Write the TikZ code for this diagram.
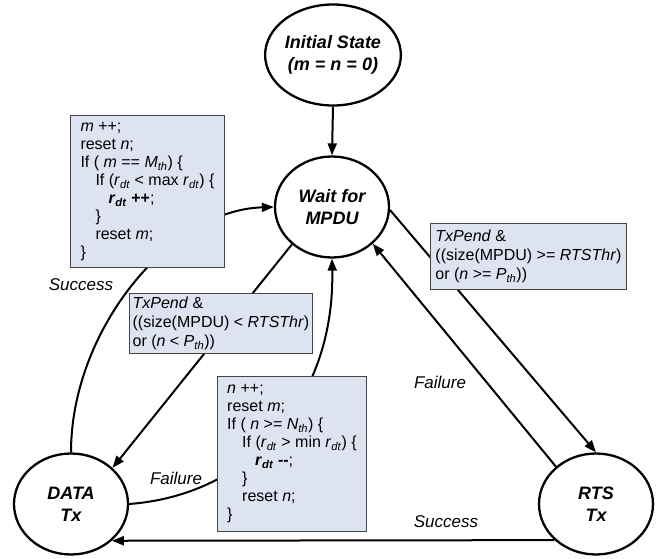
\documentclass[tikz,border=0pt]{standalone}
\usepackage{fontspec}
\setmainfont{Liberation Sans}
\usetikzlibrary{shapes.geometric,arrows.meta}
\newcommand{\subit}[1]{\textsubscript{\textit{#1}}}
\definecolor{boxfill}{RGB}{221,227,240}
\definecolor{boxline}{RGB}{70,70,70}
\tikzset{
  state/.style={ellipse, draw=black, line width=2.3pt, fill=white,
    minimum width=114pt, minimum height=101pt, inner sep=0pt, align=center,
    font=\fontsize{18}{22}\selectfont\bfseries\itshape},
  codebox/.style={rectangle, draw=boxline, line width=0.9pt, fill=boxfill,
    anchor=north west, align=left, inner sep=0pt,
    font=\fontsize{16}{18}\selectfont},
  condbox/.style={codebox, font=\fontsize{16}{19}\selectfont},
  conn/.style={line width=2pt, -{Triangle[length=12pt,width=9pt]}},
  lbl/.style={font=\fontsize{17}{20}\selectfont\itshape, inner sep=0pt}
}
\begin{document}
\begin{tikzpicture}[x=1pt,y=-1pt]
\useasboundingbox (0,0) rectangle (672,559);
% states
\node[state] (init) at (333,55) {Initial State\\(\textit{m} = \textit{n} = 0)};
\node[state] (wait) at (332,207) {Wait for\\MPDU};
\node[state] (data) at (71,504) {DATA\\Tx};
\node[state] (rts) at (596,504) {RTS\\Tx};
% connectors
\draw[conn] (init.south) -- (wait.north);
\draw[conn] (data.north) .. controls (71,330) and (170,210) .. (wait.west);
\draw[conn] (wait.223) -- (data.41);
\draw[conn] (data.east) .. controls (250,495) and (335,400) .. (wait.south);
\draw[conn] (wait.-3) -- (rts.north);
\draw[conn] (rts.137) -- (wait.318);
\draw[conn] (rts.221.7) -- (data.318.3);
% labels
\node[lbl] (ls1) at (81,285) {Success};
\node[lbl] (lf1) at (176,478) {Failure};
\node[lbl] (lf2) at (440,382) {Failure};
\node[lbl] (ls2) at (446,522) {Success};
% boxes
\node[codebox, minimum width=154pt, minimum height=152pt] (b1) at (70,115)
{\textit{m} ++;\\
reset \textit{n};\\
If ( \textit{m} == \textit{M}\subit{th}) \{\\
\hspace*{15pt}If (\textit{r}\subit{dt} < max \textit{r}\subit{dt}) \{\\
\hspace*{28pt}\textbf{\textit{r}\subit{dt} ++};\\
\hspace*{15pt}\}\\
\hspace*{15pt}reset \textit{m};\\
\}};
\node[condbox, minimum width=183pt, minimum height=60pt] (b2) at (129,293)
{\textit{TxPend} \&\\
((size(MPDU) < \textit{RTSThr})\\
or (\textit{n} < \textit{P}\subit{th}))};
\node[codebox, minimum width=149pt, minimum height=155pt] (b3) at (217,376)
{\textit{n} ++;\\
reset \textit{m};\\
If ( \textit{n} >= \textit{N}\subit{th}) \{\\
\hspace*{15pt}If (\textit{r}\subit{dt} > min \textit{r}\subit{dt}) \{\\
\hspace*{28pt}\textbf{\textit{r}\subit{dt} -{}-};\\
\hspace*{15pt}\}\\
\hspace*{15pt}reset \textit{n};\\
\}};
\node[condbox, minimum width=196pt, minimum height=66pt] (b4) at (430,223)
{\textit{TxPend} \&\\
((size(MPDU) >= \textit{RTSThr})\\
or (\textit{n} >= \textit{P}\subit{th}))};
\end{tikzpicture}
\end{document}
